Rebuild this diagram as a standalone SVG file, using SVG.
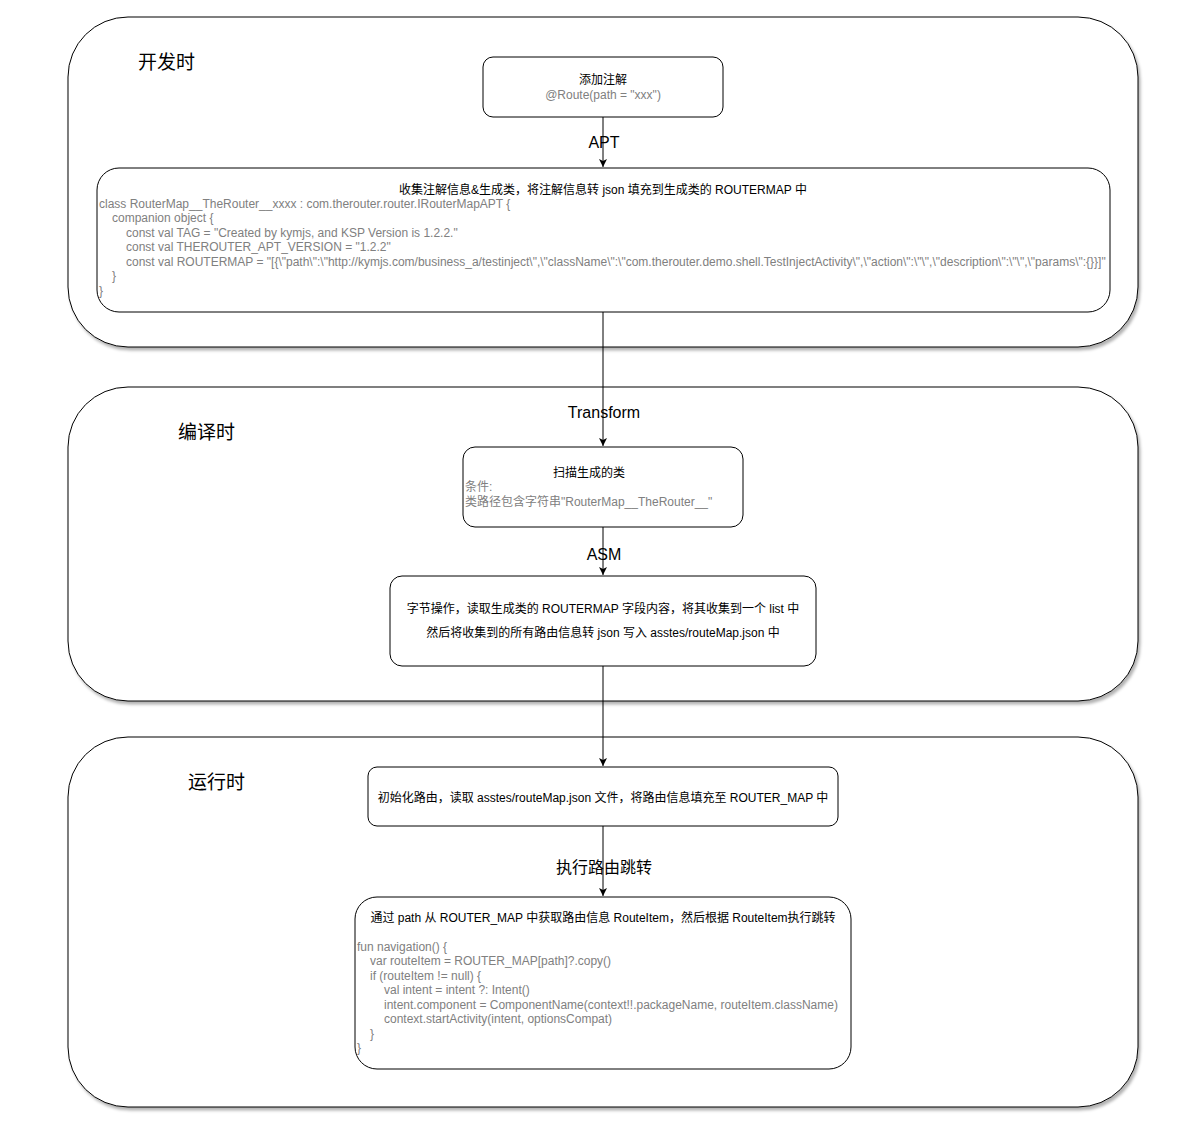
<svg xmlns="http://www.w3.org/2000/svg" width="1204" height="1129" viewBox="0 0 1204 1129">
<style>
.t{font-family:"Liberation Sans","Noto Sans CJK SC",sans-serif;font-size:12px;fill:#000}
.g{fill:#808080}
.sec{font-family:"Noto Sans CJK SC","Liberation Sans",sans-serif;font-size:19px;fill:#000}
.lbl{font-family:"Liberation Sans","Noto Sans CJK SC",sans-serif;font-size:16px;fill:#000;text-anchor:middle}
.box{fill:#fff;stroke:#000;stroke-width:1}
.c{text-anchor:middle}
.e{stroke:#000;stroke-width:1;fill:none}
</style>
<defs>
<filter id="sh" x="-5%" y="-5%" width="110%" height="115%">
<feDropShadow dx="2" dy="3" stdDeviation="1.5" flood-color="#000" flood-opacity="0.3"/>
</filter>
<marker id="ar" markerWidth="10" markerHeight="10" refX="8" refY="5" orient="auto" markerUnits="userSpaceOnUse">
<path d="M0,1 L8,5 L0,9 L2,5 Z" fill="#000"/>
</marker>
</defs>
<rect width="1204" height="1129" fill="#fff"/>

<g id="sec-dev">
<rect class="box" x="68" y="17" width="1070" height="330" rx="60" filter="url(#sh)"/>
<text class="sec" x="138" y="69">开发时</text>
</g>
<g id="sec-compile">
<rect class="box" x="68" y="387" width="1070" height="314" rx="60" filter="url(#sh)"/>
<text class="sec" x="178" y="439">编译时</text>
</g>
<g id="sec-run">
<rect class="box" x="68" y="737" width="1070" height="370" rx="60" filter="url(#sh)"/>
<text class="sec" x="188" y="789">运行时</text>
</g>

<g id="connectors">
<line class="e" x1="603" y1="117" x2="603" y2="167" marker-end="url(#ar)"/>
<line class="e" x1="603" y1="312" x2="603" y2="446" marker-end="url(#ar)"/>
<line class="e" x1="603" y1="527" x2="603" y2="575" marker-end="url(#ar)"/>
<line class="e" x1="603" y1="666" x2="603" y2="766" marker-end="url(#ar)"/>
<line class="e" x1="603" y1="826" x2="603" y2="896" marker-end="url(#ar)"/>
<text class="lbl" x="604" y="148">APT</text>
<text class="lbl" x="604" y="418">Transform</text>
<text class="lbl" x="604" y="560">ASM</text>
<text class="lbl" x="604" y="873">执行路由跳转</text>
</g>

<g id="n-annot">
<rect class="box" x="483" y="57" width="240" height="60" rx="10"/>
<text class="t c" x="603" y="84">添加注解</text>
<text class="t g c" x="603" y="99">@Route(path = "xxx")</text>
</g>

<g id="n-collect">
<rect class="box" x="97" y="168" width="1013" height="144" rx="22"/>
<text class="t c" x="603" y="194">收集注解信息&amp;生成类，将注解信息转 json 填充到生成类的 ROUTERMAP 中</text>
<text class="t g" x="99" y="208">class RouterMap__TheRouter__xxxx : com.therouter.router.IRouterMapAPT {</text>
<text class="t g" x="112" y="222">companion object {</text>
<text class="t g" x="126" y="237">const val TAG = "Created by kymjs, and KSP Version is 1.2.2."</text>
<text class="t g" x="126" y="251">const val THEROUTER_APT_VERSION = "1.2.2"</text>
<text class="t g" x="126" y="266">const val ROUTERMAP = "[{\"path\":\"http://kymjs.com/business_a/testinject\",\"className\":\"com.therouter.demo.shell.TestInjectActivity\",\"action\":\"\",\"description\":\"\",\"params\":{}}]"</text>
<text class="t g" x="112" y="280">}</text>
<text class="t g" x="99" y="295">}</text>
</g>

<g id="n-scan">
<rect class="box" x="463" y="447" width="280" height="80" rx="12"/>
<text class="t c" x="589" y="477">扫描生成的类</text>
<text class="t g" x="465" y="491">条件:</text>
<text class="t g" x="465" y="506">类路径包含字符串"RouterMap__TheRouter__"</text>
</g>

<g id="n-asm">
<rect class="box" x="390" y="576" width="426" height="90" rx="12"/>
<text class="t c" x="603" y="613">字节操作，读取生成类的 ROUTERMAP 字段内容，将其收集到一个 list 中</text>
<text class="t c" x="603" y="637">然后将收集到的所有路由信息转 json 写入 asstes/routeMap.json 中</text>
</g>

<g id="n-init">
<rect class="box" x="368" y="767" width="470" height="59" rx="9"/>
<text class="t c" x="603" y="802">初始化路由，读取 asstes/routeMap.json 文件，将路由信息填充至 ROUTER_MAP 中</text>
</g>

<g id="n-nav">
<rect class="box" x="355" y="897" width="496" height="172" rx="22"/>
<text class="t c" x="603" y="922">通过 path 从 ROUTER_MAP 中获取路由信息 RouteItem，然后根据 RouteItem执行跳转</text>
<text class="t g" x="357" y="951">fun navigation() {</text>
<text class="t g" x="370" y="965">var routeItem = ROUTER_MAP[path]?.copy()</text>
<text class="t g" x="370" y="980">if (routeItem != null) {</text>
<text class="t g" x="384" y="994">val intent = intent ?: Intent()</text>
<text class="t g" x="384" y="1009">intent.component = ComponentName(context!!.packageName, routeItem.className)</text>
<text class="t g" x="384" y="1023">context.startActivity(intent, optionsCompat)</text>
<text class="t g" x="370" y="1038">}</text>
<text class="t g" x="357" y="1052">}</text>
</g>
</svg>
